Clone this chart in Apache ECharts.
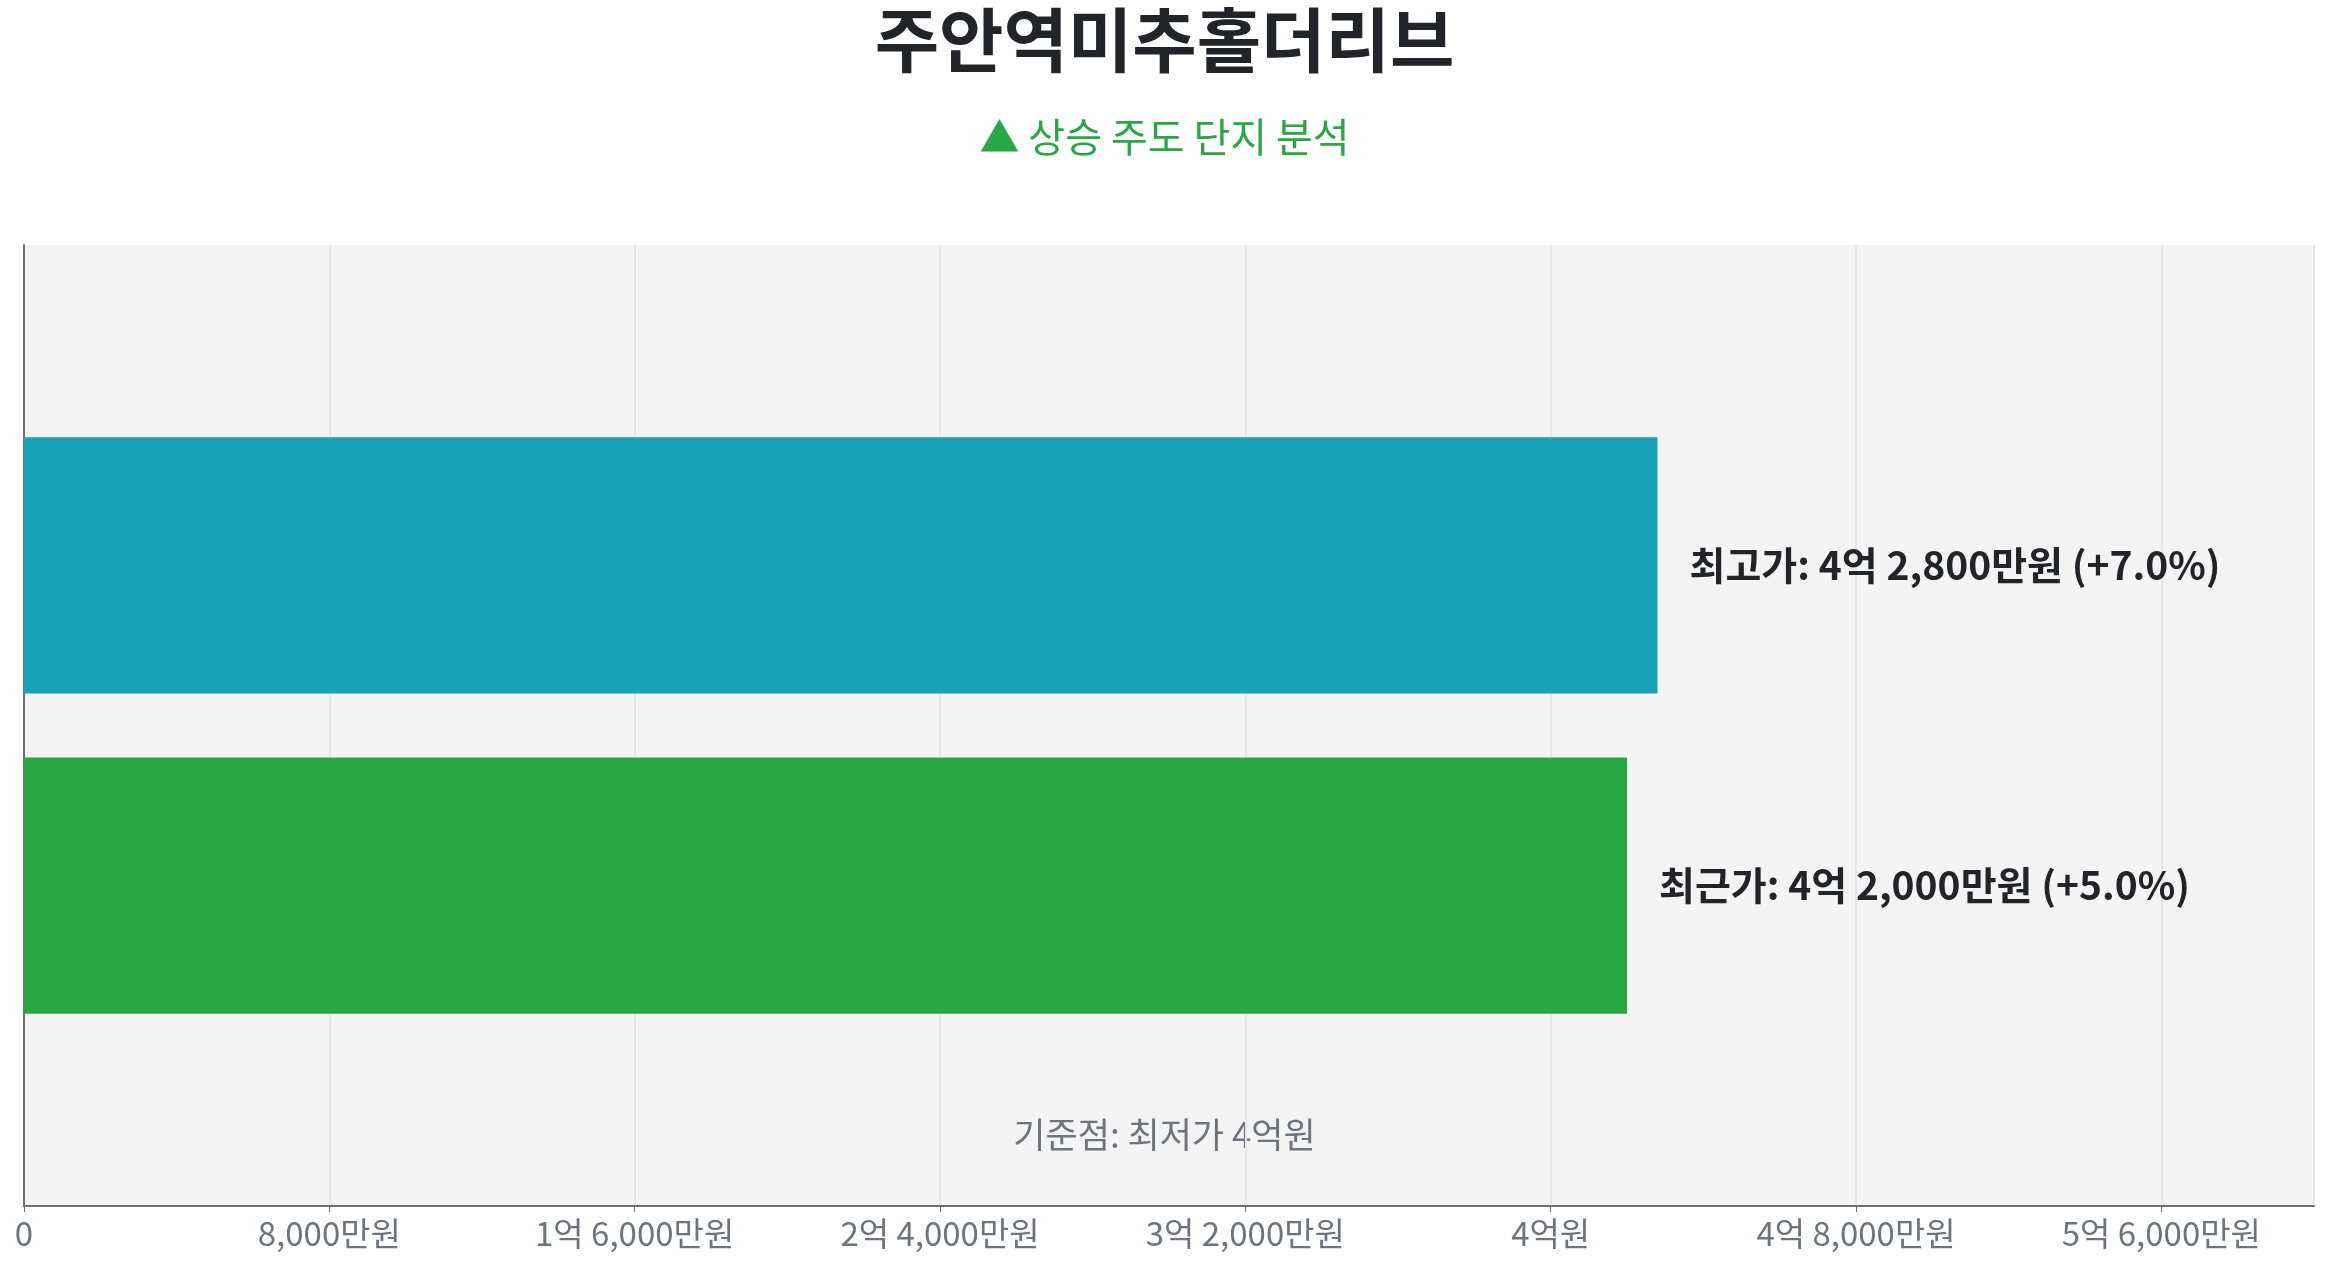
<!DOCTYPE html>
<html>
<head>
<meta charset="utf-8">
<script src="https://cdn.jsdelivr.net/npm/echarts@6/dist/echarts.min.js"></script>
<style>
html,body{margin:0;padding:0;background:#fff;}
#c{width:2329px;height:1268px;}
</style>
</head>
<body>
<div id="c"></div>
<script>
const titleText = '주안역미추홀더리브';
const subtitleText = '▲ 상승 주도 단지 분석';
const footnoteText = '기준점: 최저가 4억원';
const category = ['주안역미추홀더리브'];
const seriesNames = ['최고가', '최근가'];
const seriesValues = [42800, 42000];      // 만원
const seriesChanges = [7.0, 5.0];         // %
const seriesColors = ['#17a2b8', '#28a745'];
const axisMin = 0;
const axisMax = 60000;
const axisInterval = 8000;

function fmtMoney(v) {
  if (v === 0) return '0';
  const eok = Math.floor(v / 10000);
  const man = v % 10000;
  if (eok && man) return eok + '억 ' + man.toLocaleString('en-US') + '만원';
  if (eok) return eok + '억원';
  return man.toLocaleString('en-US') + '만원';
}

const font = '"Noto Sans CJK KR", "Noto Sans", sans-serif';
const chart = echarts.init(document.getElementById('c'));
chart.setOption({
  backgroundColor: '#ffffff',
  textStyle: { fontFamily: font },
  title: [
    { text: titleText, left: 'center', top: 0,
      textStyle: { fontSize: 70, fontWeight: 'bold', color: '#212529', fontFamily: font } },
    { text: subtitleText, left: 'center', top: 112,
      textStyle: { fontSize: 40, fontWeight: 'normal', color: '#28a745', fontFamily: font } }
  ],
  graphic: [{
    type: 'text', left: 'center', top: 1117,
    style: { text: footnoteText, fontSize: 35, fill: '#6c757d', fontFamily: font }
  }],
  grid: { left: 24, right: 15, top: 245, bottom: 62, show: true,
          backgroundColor: '#f4f4f4', borderWidth: 0, containLabel: false },
  xAxis: {
    type: 'value', min: axisMin, max: axisMax, interval: axisInterval,
    axisLine: { show: true, lineStyle: { color: '#6e7079', width: 2 } },
    axisTick: { show: true, length: 6, lineStyle: { color: '#6e7079', width: 1 } },
    axisLabel: { show: true, fontSize: 33, color: '#6c757d', margin: 11,
                 showMaxLabel: false, formatter: fmtMoney, fontFamily: font },
    splitLine: { show: true, lineStyle: { color: '#e6e6e6', width: 2 } }
  },
  yAxis: {
    type: 'category', data: category,
    axisLine: { show: true, lineStyle: { color: '#6e7079', width: 2 } },
    axisTick: { show: false },
    axisLabel: { show: false },
    splitLine: { show: false }
  },
  series: seriesNames.map((name, i) => ({
    name: name,
    type: 'bar',
    data: [seriesValues[i]],
    barCategoryGap: '40%',
    barGap: '25%',
    itemStyle: { color: seriesColors[i] },
    label: {
      show: true, position: 'right', distance: 32,
      fontSize: 39, fontWeight: 'bold', color: '#212529', fontFamily: font,
      formatter: () => name + ': ' + fmtMoney(seriesValues[i]) + ' (+' + seriesChanges[i].toFixed(1) + '%)'
    }
  }))
});
</script>
</body>
</html>
